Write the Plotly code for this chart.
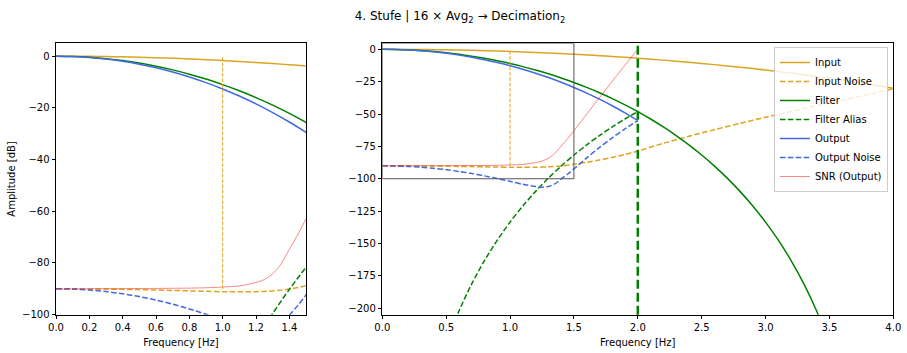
import plotly.graph_objects as go

# ---------------- data ----------------
input_freq = [0.0, 0.1, 0.2, 0.3, 0.4, 0.5, 0.6, 0.7, 0.8, 0.9, 1.0, 1.1, 1.2, 1.3, 1.4, 1.5,
              1.6, 1.7, 1.8, 1.9, 2.0, 2.2, 2.4, 2.6, 2.8, 3.0, 3.2, 3.4, 3.6, 3.8, 4.0]
input_db = [0.0, -0.017, -0.067, -0.151, -0.268, -0.419, -0.604, -0.823, -1.076, -1.363, -1.685,
            -2.042, -2.434, -2.861, -3.324, -3.823, -4.359, -4.931, -5.542, -6.190, -6.877,
            -8.369, -10.024, -11.847, -13.847, -16.031, -18.408, -20.991, -23.791, -26.823, -30.103]
input_noise_db = [-90.0, -90.0, -90.05, -90.1, -90.2, -90.3, -90.45, -90.6, -90.8, -90.95, -91.1,
                  -91.15, -91.1, -90.8, -90.1, -88.8, -87.3, -85.5, -83.5, -81.2, -78.6,
                  -72.6, -67.2, -62.1, -57.2, -52.5, -48.0, -43.6, -39.3, -34.9, -30.4]

filter_freq = [0.0, 0.1, 0.2, 0.3, 0.4, 0.5, 0.6, 0.7, 0.8, 0.9, 1.0, 1.1, 1.2, 1.3, 1.4, 1.5,
               1.6, 1.7, 1.8, 1.9, 2.0, 2.1, 2.2, 2.3, 2.4, 2.5, 2.6, 2.7, 2.8, 2.9, 3.0, 3.1,
               3.2, 3.3, 3.4, 3.5]
filter_db = [0.0, -0.107, -0.429, -0.967, -1.722, -2.696, -3.894, -5.318, -6.974, -8.867, -11.003,
             -13.391, -16.038, -18.956, -22.155, -25.649, -29.453, -33.586, -38.066, -42.916,
             -48.165, -53.844, -59.987, -66.639, -73.851, -81.685, -90.214, -99.530, -109.746,
             -121.004, -133.492, -147.449, -163.205, -181.224, -202.180, -227.125]

alias_freq = [0.3, 0.4, 0.5, 0.6, 0.7, 0.8, 0.9, 1.0, 1.1, 1.2, 1.3, 1.4, 1.5, 1.6, 1.7, 1.8,
              1.9, 2.0]
alias_db = [-297.544, -257.817, -227.125, -202.180, -181.224, -163.205, -147.449, -133.492,
            -121.004, -109.746, -99.530, -90.214, -81.685, -73.851, -66.639, -59.987, -53.844,
            -48.165]

output_freq = [0.0, 0.1, 0.2, 0.3, 0.4, 0.5, 0.6, 0.7, 0.8, 0.9, 1.0, 1.1, 1.2, 1.3, 1.4, 1.5,
               1.6, 1.7, 1.8, 1.9, 2.0]
output_db = [0.0, -0.124, -0.496, -1.118, -1.990, -3.115, -4.498, -6.141, -8.050, -10.230,
             -12.688, -15.433, -18.472, -21.817, -25.479, -29.472, -33.812, -38.517, -43.608,
             -49.106, -55.042]

noise_out_freq = [0.0, 0.1, 0.2, 0.3, 0.4, 0.5, 0.6, 0.7, 0.8, 0.9, 1.0, 1.1, 1.2, 1.25, 1.3,
                  1.35, 1.4, 1.45, 1.5, 1.6, 1.7, 1.8, 1.9, 2.0]
output_noise_db = [-90.0, -90.11, -90.48, -91.07, -91.92, -93.00, -94.34, -95.92, -97.77, -99.82,
                   -102.0, -104.3, -106.0, -106.5, -106.0, -104.0, -100.2, -96.5, -92.4,
                   -83.87, -75.82, -68.36, -61.44, -55.04]
snr_db = [-90.0, -89.99, -89.98, -89.95, -89.93, -89.88, -89.84, -89.78, -89.72, -89.59, -89.31,
          -88.87, -87.53, -86.40, -84.18, -80.39, -74.72, -69.07, -62.93, -50.06, -37.30,
          -24.75, -12.33, 0.0]

passband_edge = 1.0           # Hz, marker line
passband_span = [-90.0, 0.0]  # dB
nyquist_out = 2.0             # Hz
zoom_x = [0.0, 1.5]
zoom_y = [-100.0, 5.0]
right_y = [-205.0, 4.7]
right_x = [0.0, 4.0]

# ---------------- style ----------------
GOLD = '#DAA520'
GREEN = '#008000'
BLUE = '#4169E1'
RED = 'rgba(255,0,0,0.6)'
DASH = '5.5px,2.4px'
FONT = 'DejaVu Sans'

series = [
    ("Input", input_freq, input_db, GOLD, 'solid', 1.5),
    ("Input Noise", input_freq, input_noise_db, GOLD, DASH, 1.5),
    ("Filter", filter_freq, filter_db, GREEN, 'solid', 1.5),
    ("Filter Alias", alias_freq, alias_db, GREEN, DASH, 1.5),
    ("Output", output_freq, output_db, BLUE, 'solid', 1.5),
    ("Output Noise", noise_out_freq, output_noise_db, BLUE, DASH, 1.5),
    ("SNR (Output)", noise_out_freq, snr_db, RED, 'solid', 0.8),
]

fig = go.Figure()
for ax in (1, 2):
    for name, xs, ys, col, dash, w in series:
        fig.add_trace(go.Scatter(
            x=xs, y=ys, mode='lines', name=name,
            line=dict(color=col, width=w, dash=dash, shape='spline', smoothing=0.8),
            showlegend=(ax == 2), legendgroup=name,
            xaxis='x' if ax == 1 else 'x2', yaxis='y' if ax == 1 else 'y2',
            hoverinfo='skip'))

shapes = []
for xr, yr in (('x', 'y'), ('x2', 'y2')):
    shapes.append(dict(type='line', xref=xr, yref=yr, x0=passband_edge, x1=passband_edge,
                       y0=passband_span[0], y1=passband_span[1],
                       line=dict(color=GOLD, width=1, dash='3.7px,1.6px')))
shapes.append(dict(type='line', xref='x2', yref='y2 domain', x0=nyquist_out, x1=nyquist_out,
                   y0=0, y1=1, line=dict(color=GREEN, width=2.5, dash='9px,4px')))
shapes.append(dict(type='rect', xref='x2', yref='y2', x0=zoom_x[0], x1=zoom_x[1],
                   y0=zoom_y[0], y1=right_y[1], line=dict(color='#555555', width=1),
                   fillcolor='rgba(0,0,0,0)'))

axis_common = dict(showline=True, mirror=True, linecolor='black', linewidth=1,
                   ticks='outside', ticklen=3.5, tickwidth=1, tickcolor='black',
                   showgrid=False, zeroline=False, automargin=False,
                   tickfont=dict(family=FONT, size=10, color='black'))

ydom = [0.1085, 0.8776]
fig.update_layout(
    width=907, height=353,
    margin=dict(l=0, r=0, t=0, b=0, autoexpand=False),
    paper_bgcolor='white', plot_bgcolor='white',
    font=dict(family=FONT, size=10, color='black'),
    title=dict(text='4. Stufe | 16 × Avg<sub>2</sub> → Decimation<sub>2</sub>',
               x=460 / 907, xanchor='center', y=1 - 16 / 353, yanchor='middle',
               font=dict(family=FONT, size=12, color='black')),
    xaxis=dict(domain=[56 / 907, 306 / 907], range=zoom_x, dtick=0.2, tickformat='.1f',
               title=dict(text='Frequency [Hz]', standoff=6, font=dict(size=10)), **axis_common),
    yaxis=dict(domain=ydom, range=zoom_y, dtick=20,
               title=dict(text='Amplitude [dB]', standoff=4, font=dict(size=10)), **axis_common),
    xaxis2=dict(domain=[382.3 / 907, 893.3 / 907], range=right_x, dtick=0.5, tickformat='.1f',
                anchor='y2',
                title=dict(text='Frequency [Hz]', standoff=6, font=dict(size=10)), **axis_common),
    yaxis2=dict(domain=ydom, range=right_y, dtick=25, anchor='x2', **axis_common),
    shapes=shapes,
    legend=dict(x=888 / 907, xanchor='right', y=(353 - 47) / 353, yanchor='top',
                bgcolor='rgba(255,255,255,0.8)', bordercolor='#cccccc', borderwidth=1,
                font=dict(family=FONT, size=10, color='black'), tracegroupgap=0,
                itemwidth=30),
)

fig.write_html("out.html")
